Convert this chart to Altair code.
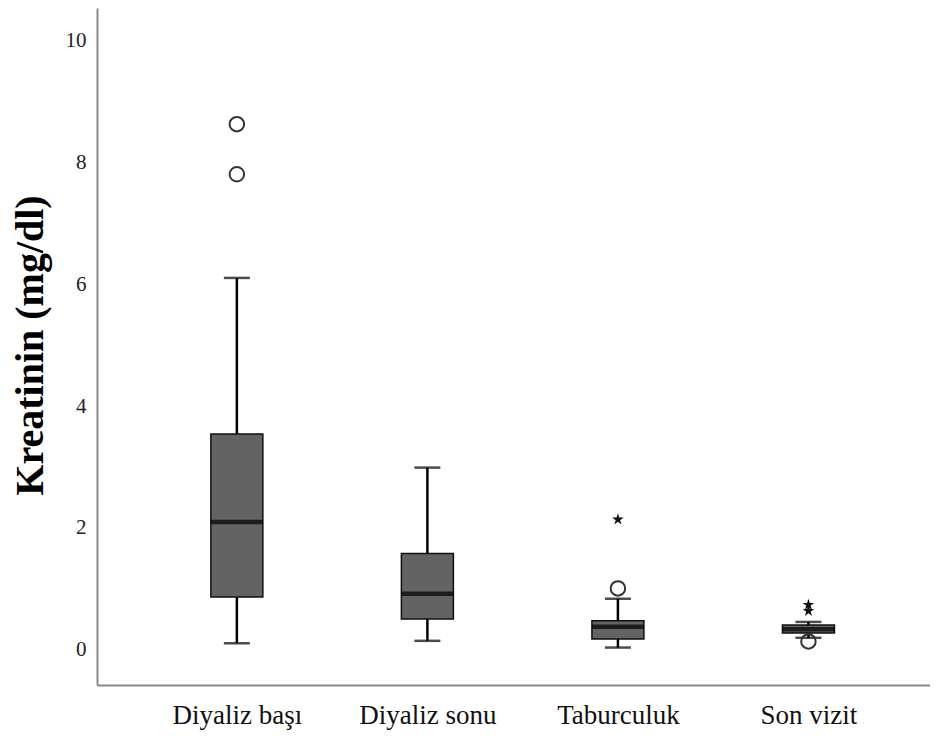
import altair as alt
import pandas as pd

categories = ["Diyaliz başı", "Diyaliz sonu", "Taburculuk", "Son vizit"]
whisker_low = [0.11, 0.15, 0.04, 0.20]
q1 = [0.87, 0.51, 0.18, 0.28]
median = [2.10, 0.92, 0.38, 0.34]
q3 = [3.54, 1.58, 0.48, 0.41]
whisker_high = [6.10, 2.99, 0.84, 0.46]

outlier_cat = ["Diyaliz başı", "Diyaliz başı", "Taburculuk", "Son vizit"]
outlier_val = [8.62, 7.80, 1.01, 0.14]

extreme_cat = ["Taburculuk", "Son vizit", "Son vizit"]
extreme_val = [2.14, 0.74, 0.64]

boxes = pd.DataFrame({
    "cat": categories, "lo": whisker_low, "q1": q1, "med": median,
    "q3": q3, "hi": whisker_high,
})
outliers = pd.DataFrame({"cat": outlier_cat, "v": outlier_val})
extremes = pd.DataFrame({"cat": extreme_cat, "v": extreme_val})

SERIF = "Liberation Serif"
ymin, ymax = -0.574, 10.525

xenc = alt.X(
    "cat:N", sort=categories,
    scale=alt.Scale(type="point", padding=0.686, align=0.535),
    axis=alt.Axis(title=None, labelAngle=0, ticks=False, domainColor="#888888",
                  domainWidth=2, labelFont=SERIF, labelFontSize=27,
                  labelColor="#111111", labelPadding=17, grid=False),
)
yscale = alt.Scale(domain=[ymin, ymax], nice=False, zero=False)
yaxis = alt.Axis(
    title="Kreatinin (mg/dl)", values=[0, 2, 4, 6, 8, 10], format="d",
    ticks=False, grid=False,
    domainColor="#888888", domainWidth=2, labelFont=SERIF, labelFontSize=21,
    labelColor="#222222", labelPadding=11, titleFont=SERIF, titleFontSize=40,
    titleFontWeight="bold", titleColor="#000000", titleX=-55, titleY=337,
    titleAngle=270, titleAlign="center", titleBaseline="alphabetic",
)

base = alt.Chart(boxes)

whisk = base.mark_rule(color="#000000", strokeWidth=2.5).encode(
    x=xenc, y=alt.Y("lo:Q", scale=yscale, axis=yaxis), y2="hi:Q")
caps_lo = base.mark_tick(color="#000000", size=26, thickness=2.5).encode(
    x=xenc, y=alt.Y("lo:Q", scale=yscale))
caps_hi = base.mark_tick(color="#000000", size=26, thickness=2.5).encode(
    x=xenc, y=alt.Y("hi:Q", scale=yscale))
box = base.mark_bar(size=52, fill="#636363", stroke="#111111", strokeWidth=1.5).encode(
    x=xenc, y=alt.Y("q1:Q", scale=yscale), y2="q3:Q")
med = base.mark_tick(color="#000000", size=52, thickness=4.5).encode(
    x=xenc, y=alt.Y("med:Q", scale=yscale))

circ = alt.Chart(outliers).mark_point(
    shape="circle", filled=False, size=210, stroke="#333333", strokeWidth=2, opacity=1
).encode(x=xenc, y=alt.Y("v:Q", scale=yscale))

STAR = ("M0,-1L0.2245,-0.309L0.951,-0.309L0.363,0.118L0.588,0.809L0,0.382"
        "L-0.588,0.809L-0.363,0.118L-0.951,-0.309L-0.2245,-0.309Z")
star = alt.Chart(extremes).mark_point(
    shape=STAR, filled=True, size=150, color="#111111", opacity=1
).encode(x=xenc, y=alt.Y("v:Q", scale=yscale))

chart = alt.layer(whisk, caps_lo, caps_hi, box, med, circ, star).properties(
    width=833, height=677,
    autosize=alt.AutoSizeParams(type="none"),
    padding={"left": 89, "top": 0, "right": 0, "bottom": 50},
    background="#ffffff",
).configure_view(stroke=None)

chart.save("out.html", embed_options={"renderer": "svg", "actions": False})
